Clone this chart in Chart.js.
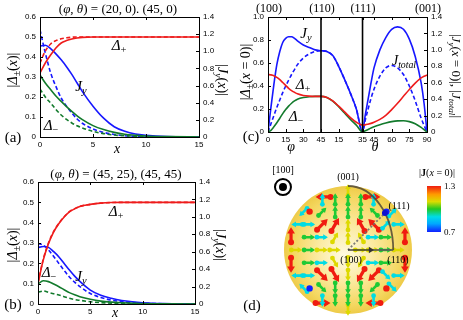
<!DOCTYPE html>
<html>
<head>
<meta charset="utf-8">
<script src="https://cdn.jsdelivr.net/npm/chart.js@4.4.0/dist/chart.umd.min.js"></script>
<style>
  body { margin: 0; background: #fff; }
  #fig { position: relative; width: 463px; height: 320px; overflow: hidden; font-family: 'Liberation Serif', 'DejaVu Serif', serif; }
  #fig canvas { position: absolute; }
  .t { position: absolute; white-space: nowrap; transform: translate(-50%, -50%); color: #000; line-height: 1; }
  .rl { transform: translate(-50%, -50%) rotate(-90deg); }
  .rr { transform: translate(-50%, -50%) rotate(90deg); }
  .t sub { font-size: 70%; vertical-align: -0.3em; }
  .l { transform: translate(0, -50%); }
</style>
</head>
<body>
<div id="fig">
  <canvas id="chartA" width="240" height="160" style="left:0;top:0"></canvas>
  <canvas id="chartB" width="240" height="160" style="left:0;top:160px"></canvas>
  <canvas id="chartC" width="223" height="160" style="left:240px;top:0"></canvas>
  <canvas id="chartD" width="223" height="170" style="left:240px;top:150px"></canvas>

  <!-- (a) -->
  <div class="t" style="left:118px;top:8px;font-size:13px">(<i>φ</i>, <i>θ</i>) = (20, 0). (45, 0)</div>
  <div class="t rl" style="left:14px;top:70px;font-size:14px">|<i>Δ</i><sub>±</sub>(<i>x</i>)|</div>
  <div class="t rr" style="left:221px;top:80px;font-size:14px">|<i>J<sub>y</sub></i>(<i>x</i>)|</div>
  <div class="t" style="left:119px;top:47px;font-size:15px"><i>Δ</i><sub>+</sub></div>
  <div class="t" style="left:81px;top:88px;font-size:15px"><i>J<sub>y</sub></i></div>
  <div class="t" style="left:51px;top:127px;font-size:15px"><i>Δ</i><sub>−</sub></div>
  <div class="t" style="left:13px;top:137px;font-size:15px">(a)</div>
  <div class="t" style="left:117px;top:149px;font-size:14px"><i>x</i></div>

  <!-- (b) -->
  <div class="t" style="left:116px;top:173px;font-size:13px">(<i>φ</i>, <i>θ</i>) = (45, 25), (45, 45)</div>
  <div class="t rl" style="left:14px;top:245px;font-size:14px">|<i>Δ</i><sub>±</sub>(<i>x</i>)|</div>
  <div class="t rr" style="left:219px;top:245px;font-size:14px">|<i>J<sub>y</sub></i>(<i>x</i>)|</div>
  <div class="t" style="left:116px;top:213px;font-size:15px"><i>Δ</i><sub>+</sub></div>
  <div class="t" style="left:49px;top:274px;font-size:15px"><i>Δ</i><sub>−</sub></div>
  <div class="t" style="left:81px;top:278px;font-size:15px"><i>J<sub>y</sub></i></div>
  <div class="t" style="left:13px;top:304px;font-size:15px">(b)</div>
  <div class="t" style="left:115px;top:313px;font-size:14px"><i>x</i></div>

  <!-- (c) -->
  <div class="t" style="left:269px;top:8px;font-size:12px">(100)</div>
  <div class="t" style="left:322px;top:8px;font-size:12px">(110)</div>
  <div class="t" style="left:363px;top:8px;font-size:12px">(111)</div>
  <div class="t" style="left:428px;top:8px;font-size:12px">(001)</div>
  <div class="t rl" style="left:247px;top:72px;font-size:14px">|<i>Δ</i><sub>±</sub>(<i>x</i> = 0)|</div>
  <div class="t rr" style="left:455px;top:76px;font-size:13px">|<i>J<sub>y</sub></i>(<i>x</i> = 0)|, |<i>J<sub>total</sub></i>|</div>
  <div class="t" style="left:306px;top:35px;font-size:15px"><i>J<sub>y</sub></i></div>
  <div class="t" style="left:303px;top:86px;font-size:15px"><i>Δ</i><sub>+</sub></div>
  <div class="t" style="left:296px;top:118px;font-size:15px"><i>Δ</i><sub>−</sub></div>
  <div class="t" style="left:404px;top:62px;font-size:14px"><i>J<sub>total</sub></i></div>
  <div class="t" style="left:251px;top:136px;font-size:15px">(c)</div>
  <div class="t" style="left:291px;top:147px;font-size:14px"><i>φ</i></div>
  <div class="t" style="left:375px;top:147px;font-size:14px"><i>θ</i></div>

  <!-- (d) -->
  <div class="t" style="left:283px;top:170px;font-size:10px">[100]</div>
  <div class="t" style="left:348px;top:177px;font-size:10px">(001)</div>
  <div class="t" style="left:399px;top:206px;font-size:10px">(111)</div>
  <div class="t" style="left:351px;top:260px;font-size:10px">(100)</div>
  <div class="t" style="left:398px;top:260px;font-size:10px">(110)</div>
  <div class="t" style="left:252px;top:305px;font-size:15px">(d)</div>
  <div class="t" style="left:437px;top:173px;font-size:10px">|<b>J</b>(<i>x</i> = 0)|</div>
  <div class="t l" style="left:444px;top:186px;font-size:9px">1.3</div>
  <div class="t l" style="left:444px;top:232px;font-size:9px">0.7</div>
</div>

<script>
// ---------- data: panels (a) and (b), profiles vs x ----------
const X_AB = [0, 0.5, 1, 1.5, 2, 2.5, 3, 3.5, 4, 5, 6, 7, 8, 9, 10, 12, 15];

// (a) solid = (20,0), dashed = (45,0)
const A_DPLUS_SOLID  = [0.32, 0.37, 0.41, 0.445, 0.47, 0.482, 0.49, 0.495, 0.498, 0.5, 0.5, 0.5, 0.5, 0.5, 0.5, 0.5, 0.5];
const A_DPLUS_DASH   = [0.37, 0.43, 0.465, 0.482, 0.491, 0.496, 0.499, 0.5, 0.5, 0.5, 0.5, 0.5, 0.5, 0.5, 0.5, 0.5, 0.5];
const A_DMINUS_SOLID = [0.31, 0.27, 0.237, 0.205, 0.178, 0.152, 0.128, 0.106, 0.087, 0.057, 0.037, 0.023, 0.014, 0.009, 0.005, 0.002, 0];
const A_DMINUS_DASH  = [0.24, 0.2, 0.17, 0.138, 0.11, 0.088, 0.07, 0.056, 0.045, 0.028, 0.017, 0.01, 0.006, 0.004, 0.002, 0.001, 0];
const A_JY_SOLID     = [1.06, 1.07, 1.03, 0.97, 0.9, 0.82, 0.73, 0.63, 0.53, 0.36, 0.22, 0.12, 0.066, 0.035, 0.02, 0.005, 0];
const A_JY_DASH      = [1.25, 0.98, 0.75, 0.59, 0.455, 0.36, 0.28, 0.21, 0.16, 0.093, 0.054, 0.03, 0.015, 0.008, 0.004, 0.001, 0];

// (b) solid = (45,25), dashed = (45,45)
const B_DPLUS_SOLID  = [0.1, 0.216, 0.297, 0.355, 0.396, 0.428, 0.453, 0.468, 0.48, 0.49, 0.496, 0.499, 0.5, 0.5, 0.5, 0.5, 0.5];
const B_DPLUS_DASH   = [0.105, 0.22, 0.3, 0.357, 0.397, 0.429, 0.454, 0.469, 0.48, 0.49, 0.496, 0.499, 0.5, 0.5, 0.5, 0.5, 0.5];
const B_DMINUS_SOLID = [0.098, 0.114, 0.11, 0.098, 0.085, 0.07, 0.056, 0.045, 0.036, 0.023, 0.014, 0.009, 0.006, 0.004, 0.002, 0.001, 0];
const B_DMINUS_DASH  = [0.057, 0.064, 0.057, 0.05, 0.044, 0.036, 0.028, 0.022, 0.018, 0.011, 0.007, 0.004, 0.003, 0.002, 0.001, 0, 0];
const B_JY_SOLID     = [0.648, 0.66, 0.65, 0.6, 0.54, 0.465, 0.39, 0.32, 0.26, 0.16, 0.1, 0.065, 0.04, 0.025, 0.015, 0.005, 0];
const B_JY_DASH      = [0.694, 0.675, 0.62, 0.545, 0.465, 0.385, 0.31, 0.25, 0.2, 0.12, 0.075, 0.045, 0.027, 0.016, 0.01, 0.003, 0];

// ---------- data: panel (c), path (100)->(110)->(111)->(001) ----------
// path coordinate in degrees: phi 0..45, then theta 90->54.7, then 54.7->0
const U_PATH = [0, 2.5, 5, 7.5, 10, 12.5, 15, 17.5, 20, 22.5, 25, 30, 35, 40, 45, 50, 55, 60, 65, 70, 75, 80.26,
                82.5, 85, 87.5, 90, 95, 100, 105, 110, 115, 120, 125, 130, 132.5, 135];
const C_JY     = [0, 0.3, 0.58, 0.82, 0.98, 1.09, 1.14, 1.16, 1.16, 1.14, 1.11, 1.06, 1.03, 1.0, 0.99, 0.98, 0.93, 0.8, 0.64, 0.47, 0.28, 0,
                  0.2, 0.4, 0.6, 0.78, 1.0, 1.15, 1.25, 1.28, 1.25, 1.13, 0.92, 0.6, 0.35, 0];
const C_JTOTAL = [0, 0.1, 0.2, 0.3, 0.39, 0.48, 0.56, 0.63, 0.7, 0.76, 0.82, 0.9, 0.95, 0.98, 0.99, 0.98, 0.93, 0.8, 0.64, 0.47, 0.28, 0,
                  0.14, 0.28, 0.41, 0.52, 0.68, 0.78, 0.81, 0.78, 0.7, 0.56, 0.38, 0.17, 0.08, 0];
const C_DPLUS  = [0.5, 0.497, 0.49, 0.475, 0.455, 0.43, 0.405, 0.38, 0.36, 0.345, 0.332, 0.318, 0.312, 0.31, 0.31, 0.3, 0.27, 0.225, 0.175, 0.125, 0.085, 0.06,
                  0.062, 0.068, 0.075, 0.085, 0.11, 0.145, 0.195, 0.25, 0.31, 0.37, 0.425, 0.47, 0.485, 0.495];
const C_DMINUS = [0, 0.015, 0.045, 0.08, 0.12, 0.16, 0.195, 0.225, 0.25, 0.27, 0.285, 0.3, 0.307, 0.31, 0.31, 0.3, 0.268, 0.22, 0.165, 0.11, 0.06, 0,
                  0.01, 0.022, 0.034, 0.045, 0.063, 0.078, 0.09, 0.097, 0.098, 0.09, 0.072, 0.04, 0.02, 0];
const C_TICK_POS = [0, 15, 30, 45, 60, 80.26, 90, 105, 120, 135];
const C_TICK_LAB = ['0', '15', '30', '45', '15', '35', '45', '60', '75', '90'];
const C_DIVIDERS = [45, 80.26];

// ---------- data: panel (d), current on the sphere seen from [100] ----------
// projected position (y, z) on the unit sphere, arrow direction (deg, 0 = +y, 90 = +z; null = dot), |J|
const ARROW_Y = [
  0.39, -0.39, 0.70, -0.70, 0.89, -0.89, 0.89, -0.89, 0.70, -0.70, 0.39, -0.39, 0, 0,
  -0.4, -0.2, 0, 0.2, 0.4,
  -0.6, -0.4, -0.2, 0, 0.2, 0.4, 0.6,
  -0.8, -0.6, -0.4, -0.2, 0, 0.2, 0.4, 0.6, 0.8,
  -0.6, -0.4, -0.2, 0, 0.2, 0.4, 0.6,
  -0.8, -0.6, -0.4, -0.2, 0.2, 0.4, 0.6, 0.8,
  -0.6, -0.4, -0.2, 0, 0.2, 0.4, 0.6,
  -0.8, -0.6, -0.4, -0.2, 0, 0.2, 0.4, 0.6, 0.8,
  -0.6, -0.4, -0.2, 0, 0.2, 0.4, 0.6,
  -0.4, -0.2, 0, 0.2, 0.4];
const ARROW_Z = [
  0.83, 0.83, 0.59, 0.59, 0.24, 0.24, -0.24, -0.24, -0.59, -0.59, -0.83, -0.83, 0.94, -0.94,
  0.8, 0.8, 0.8, 0.8, 0.8,
  0.6, 0.6, 0.6, 0.6, 0.6, 0.6, 0.6,
  0.4, 0.4, 0.4, 0.4, 0.4, 0.4, 0.4, 0.4, 0.4,
  0.2, 0.2, 0.2, 0.2, 0.2, 0.2, 0.2,
  0, 0, 0, 0, 0, 0, 0, 0,
  -0.2, -0.2, -0.2, -0.2, -0.2, -0.2, -0.2,
  -0.4, -0.4, -0.4, -0.4, -0.4, -0.4, -0.4, -0.4, -0.4,
  -0.6, -0.6, -0.6, -0.6, -0.6, -0.6, -0.6,
  -0.8, -0.8, -0.8, -0.8, -0.8];
const ARROW_DIR = [
  0, 180, 45, 225, 90, 90, 270, 270, 315, 135, 180, 0, 90, 270,
  90, 90, 90, 90, 90,
  null, 45, 90, 90, 90, 135, null,
  180, 0, 45, 60, 90, 120, 135, 45, 0,
  0, 0, 60, 90, 120, 0, 0,
  0, 0, 0, 0, 0, 0, 0, 0,
  0, 0, 300, 270, 240, 0, 0,
  180, 0, 315, 300, 270, 240, 225, 315, 0,
  null, 315, 270, 270, 270, 225, null,
  270, 270, 270, 270, 270];
const ARROW_MAG = [
  1.3, 1.3, 0.9, 0.9, 1.3, 1.3, 1.3, 1.3, 0.9, 0.9, 1.3, 1.3, 1.1, 1.1,
  0.9, 0.99, 0.99, 0.99, 0.9,
  1.3, 0.99, 0.99, 0.99, 0.99, 0.99, 0.7,
  0.9, 0.9, 1.3, 1.3, 1.1, 1.3, 1.3, 0.9, 0.9,
  0.99, 0.9, 1.1, 1.1, 1.1, 0.9, 0.99,
  1.1, 0.99, 1.1, 1.1, 1.1, 1.1, 0.99, 1.1,
  0.99, 0.9, 1.1, 1.1, 1.1, 0.9, 0.99,
  0.9, 0.9, 1.3, 1.3, 1.1, 1.3, 1.3, 0.9, 0.9,
  0.7, 0.99, 0.99, 0.99, 0.99, 0.99, 1.3,
  0.9, 0.99, 0.99, 0.99, 0.9];
const J_RANGE = [0.7, 1.3];
const JET_STOPS = [[0, '#1020ff'], [0.18, '#00a8ff'], [0.33, '#00dce8'], [0.5, '#22c822'], [0.66, '#dcdc00'], [0.82, '#ff9a00'], [1, '#f01c10']];
const VIEW_Y = [-1.6875, 1.797];
const VIEW_Z = [-1.094, 1.5625];
const POINT_111 = [0.577, 0.577];
const POINT_110 = [0.707, 0];
const VIEW_MARK = [-1.016, 0.984];

// ---------- styles ----------
const RED = '#ee1c1c', BLUE = '#1717ff', GREEN = '#127a2c';
const TICK_FONT = { family: "'Liberation Sans', Arial, sans-serif", size: 8 };

function series(xs, ys, color, dashed, axis) {
  return {
    data: xs.map((x, i) => ({ x, y: ys[i] })),
    borderColor: color, borderWidth: 1.6, borderDash: dashed ? [4, 2.5] : [],
    pointRadius: 0, cubicInterpolationMode: 'monotone', yAxisID: axis, fill: false,
  };
}

const frame = {
  id: 'frame',
  afterDraw(c) {
    const { ctx, chartArea: a, scales } = c;
    ctx.save();
    ctx.strokeStyle = '#000';
    ctx.lineWidth = 1;
    ctx.strokeRect(Math.round(a.left) + 0.5, Math.round(a.top) + 0.5, Math.round(a.right - a.left), Math.round(a.bottom - a.top));
    ctx.beginPath();
    scales.x.ticks.forEach(t => {
      const p = Math.round(scales.x.getPixelForValue(t.value)) + 0.5;
      ctx.moveTo(p, a.bottom); ctx.lineTo(p, a.bottom - 3);
      ctx.moveTo(p, a.top); ctx.lineTo(p, a.top + 3);
    });
    scales.yL.ticks.forEach(t => {
      const p = Math.round(scales.yL.getPixelForValue(t.value)) + 0.5;
      ctx.moveTo(a.left, p); ctx.lineTo(a.left + 3, p);
    });
    scales.yR.ticks.forEach(t => {
      const p = Math.round(scales.yR.getPixelForValue(t.value)) + 0.5;
      ctx.moveTo(a.right, p); ctx.lineTo(a.right - 3, p);
    });
    ctx.stroke();
    ctx.restore();
  }
};

function lineChart(id, o) {
  const axis = (extra) => Object.assign({
    grid: { display: false, drawTicks: false }, border: { display: false },
  }, extra);
  return new Chart(document.getElementById(id), {
    type: 'line',
    data: { datasets: o.datasets },
    options: {
      responsive: false, animation: false,
      layout: { padding: { top: o.top, left: 0, right: 0, bottom: 0 } },
      plugins: { legend: { display: false }, tooltip: { enabled: false } },
      scales: {
        x: axis(Object.assign({
          type: 'linear', min: o.xMin, max: o.xMax,
          ticks: { stepSize: o.xStep, font: TICK_FONT, color: '#000', padding: 3, maxRotation: 0 },
          afterFit(s) { s.height = o.hX; },
        }, o.xExtra || {})),
        yL: axis({
          position: 'left', min: 0, max: o.lMax,
          ticks: { stepSize: o.lStep, font: TICK_FONT, color: '#000', padding: 4 },
          afterFit(s) { s.width = o.wL; },
        }),
        yR: axis({
          position: 'right', min: 0, max: 1.4,
          ticks: { stepSize: 0.2, font: TICK_FONT, color: '#000', padding: 4 },
          afterFit(s) { s.width = o.wR; },
        }),
      },
    },
    plugins: [frame].concat(o.plugins || []),
  });
}

// (a)
lineChart('chartA', {
  top: 17, wL: 40, wR: 41, hX: 23, xMin: 0, xMax: 15, xStep: 5, lMax: 0.6, lStep: 0.1,
  datasets: [
    series(X_AB, A_DPLUS_DASH, RED, true, 'yL'),
    series(X_AB, A_DPLUS_SOLID, RED, false, 'yL'),
    series(X_AB, A_DMINUS_DASH, GREEN, true, 'yL'),
    series(X_AB, A_DMINUS_SOLID, GREEN, false, 'yL'),
    series(X_AB, A_JY_DASH, BLUE, true, 'yR'),
    series(X_AB, A_JY_SOLID, BLUE, false, 'yR'),
  ],
});

// (b)
lineChart('chartB', {
  top: 22, wL: 38, wR: 45, hX: 16, xMin: 0, xMax: 15, xStep: 5, lMax: 0.6, lStep: 0.1,
  datasets: [
    series(X_AB, B_DPLUS_DASH, RED, true, 'yL'),
    series(X_AB, B_DPLUS_SOLID, RED, false, 'yL'),
    series(X_AB, B_DMINUS_DASH, GREEN, true, 'yL'),
    series(X_AB, B_DMINUS_SOLID, GREEN, false, 'yL'),
    series(X_AB, B_JY_DASH, BLUE, true, 'yR'),
    series(X_AB, B_JY_SOLID, BLUE, false, 'yR'),
  ],
});

// (c)
const dividers = {
  id: 'dividers',
  afterDatasetsDraw(c) {
    const { ctx, chartArea: a } = c, x = c.scales.x;
    ctx.save();
    ctx.strokeStyle = '#000';
    ctx.lineWidth = 1.6;
    C_DIVIDERS.forEach(v => {
      const p = x.getPixelForValue(v);
      ctx.beginPath(); ctx.moveTo(p, a.top); ctx.lineTo(p, a.bottom); ctx.stroke();
    });
    ctx.restore();
  }
};
lineChart('chartC', {
  top: 17, wL: 28, wR: 36, hX: 28, xMin: 0, xMax: 135, xStep: 15, lMax: 1, lStep: 0.2,
  xExtra: {
    afterBuildTicks(s) { s.ticks = C_TICK_POS.map(v => ({ value: v })); },
    ticks: { font: TICK_FONT, color: '#000', padding: 3, maxRotation: 0, autoSkip: false,
             callback: (v, i) => C_TICK_LAB[i] },
  },
  datasets: [
    series(U_PATH, C_DPLUS, RED, false, 'yL'),
    series(U_PATH, C_DMINUS, GREEN, false, 'yL'),
    series(U_PATH, C_JTOTAL, BLUE, true, 'yR'),
    series(U_PATH, C_JY, BLUE, false, 'yR'),
  ],
  plugins: [dividers],
});

// (d)
function hexRgb(h) { return [1, 3, 5].map(k => parseInt(h.slice(k, k + 2), 16)); }
function jet(v) {
  const t = Math.max(0, Math.min(1, (v - J_RANGE[0]) / (J_RANGE[1] - J_RANGE[0])));
  for (let k = 1; k < JET_STOPS.length; k++) {
    if (t <= JET_STOPS[k][0]) {
      const [t0, c0] = JET_STOPS[k - 1], [t1, c1] = JET_STOPS[k];
      const f = (t - t0) / (t1 - t0), a = hexRgb(c0), b = hexRgb(c1);
      return `rgb(${a.map((q, i) => Math.round(q + (b[i] - q) * f)).join(',')})`;
    }
  }
  return JET_STOPS[JET_STOPS.length - 1][1];
}

function arrowHead(ctx, x0, y0, x1, y1, size) {
  const ang = Math.atan2(y1 - y0, x1 - x0);
  ctx.beginPath();
  ctx.moveTo(x1, y1);
  ctx.lineTo(x1 - size * Math.cos(ang - 0.55), y1 - size * Math.sin(ang - 0.55));
  ctx.lineTo(x1 - size * Math.cos(ang + 0.55), y1 - size * Math.sin(ang + 0.55));
  ctx.closePath();
  ctx.fill();
}

const sphere = {
  id: 'sphere',
  beforeDatasetsDraw(c) {
    const { ctx } = c, sx = c.scales.x, sy = c.scales.y;
    const cx = sx.getPixelForValue(0), cy = sy.getPixelForValue(0);
    const rx = sx.getPixelForValue(1) - cx, ry = cy - sy.getPixelForValue(1);
    ctx.save();
    const g = ctx.createRadialGradient(cx - 4, cy + 6, 0, cx, cy, rx);
    g.addColorStop(0, '#fffbe4');
    g.addColorStop(0.45, '#fbeaa0');
    g.addColorStop(0.85, '#f4d760');
    g.addColorStop(1, '#eecb48');
    ctx.fillStyle = g;
    ctx.beginPath(); ctx.ellipse(cx, cy, rx, ry, 0, 0, Math.PI * 2); ctx.fill();
    // view direction marker [100]
    const mx = sx.getPixelForValue(VIEW_MARK[0]), my = sy.getPixelForValue(VIEW_MARK[1]);
    ctx.strokeStyle = '#000'; ctx.lineWidth = 2;
    ctx.beginPath(); ctx.arc(mx, my, 8, 0, Math.PI * 2); ctx.stroke();
    ctx.fillStyle = '#000';
    ctx.beginPath(); ctx.arc(mx, my, 4, 0, Math.PI * 2); ctx.fill();
    // colour bar
    const cb = ctx.createLinearGradient(0, 36, 0, 82);
    JET_STOPS.forEach(([t, col]) => cb.addColorStop(1 - t, col));
    ctx.fillStyle = cb;
    ctx.fillRect(187, 36, 14, 46);
    ctx.restore();
  },
  afterDatasetsDraw(c) {
    const { ctx } = c, sx = c.scales.x, sy = c.scales.y;
    const meta = c.getDatasetMeta(0);
    ctx.save();
    ctx.lineCap = 'round';
    meta.data.forEach((pt, i) => {
      const col = jet(ARROW_MAG[i]);
      ctx.fillStyle = col; ctx.strokeStyle = col;
      if (ARROW_DIR[i] === null) {
        ctx.beginPath(); ctx.arc(pt.x, pt.y, 3.2, 0, Math.PI * 2); ctx.fill();
        return;
      }
      const big = ARROW_MAG[i] > 1.2;
      const len = big ? 15 : 11;
      const a = ARROW_DIR[i] * Math.PI / 180;
      const dx = Math.cos(a) * len / 2, dy = -Math.sin(a) * len / 2;
      ctx.lineWidth = big ? 3.2 : 2.6;
      ctx.beginPath(); ctx.arc(pt.x - dx, pt.y - dy, big ? 3 : 2.4, 0, Math.PI * 2); ctx.fill();
      ctx.beginPath(); ctx.moveTo(pt.x - dx, pt.y - dy); ctx.lineTo(pt.x + dx * 0.5, pt.y + dy * 0.5); ctx.stroke();
      arrowHead(ctx, pt.x - dx, pt.y - dy, pt.x + dx, pt.y + dy, big ? 7.5 : 5.5);
    });
    // guides: great circle (001)-(111)-(110), path to (111) and (110)
    const cx = sx.getPixelForValue(0), cy = sy.getPixelForValue(0);
    const rx = sx.getPixelForValue(1) - cx, ry = cy - sy.getPixelForValue(1);
    ctx.strokeStyle = 'rgba(80,70,50,0.85)'; ctx.lineWidth = 1.8; ctx.lineCap = 'butt';
    ctx.beginPath(); ctx.ellipse(cx, cy, rx * POINT_110[0], ry, 0, -Math.PI / 2, 0); ctx.stroke();
    const p111 = [sx.getPixelForValue(POINT_111[0]), sy.getPixelForValue(POINT_111[1])];
    const p110 = [sx.getPixelForValue(POINT_110[0]), cy];
    ctx.strokeStyle = 'rgba(110,110,110,0.9)'; ctx.lineWidth = 1.8; ctx.setLineDash([2, 2]);
    ctx.beginPath(); ctx.moveTo(cx, cy); ctx.lineTo(p111[0], p111[1]); ctx.stroke();
    ctx.setLineDash([]);
    ctx.strokeStyle = 'rgba(90,90,90,0.9)';
    ctx.beginPath(); ctx.moveTo(cx + 22, cy); ctx.lineTo(p110[0], cy); ctx.stroke();
    ctx.strokeStyle = '#333'; ctx.fillStyle = '#333'; ctx.lineWidth = 1.4;
    ctx.beginPath(); ctx.moveTo(cx, cy); ctx.lineTo(cx + 22, cy); ctx.stroke();
    arrowHead(ctx, cx, cy, cx + 26, cy, 6);
    ctx.fillStyle = '#1010d0';
    ctx.beginPath(); ctx.arc(p111[0], p111[1], 3, 0, Math.PI * 2); ctx.fill();
    ctx.restore();
  }
};

new Chart(document.getElementById('chartD'), {
  type: 'scatter',
  data: { datasets: [{ data: ARROW_Y.map((y, i) => ({ x: y, y: ARROW_Z[i] })), pointRadius: 0 }] },
  options: {
    responsive: false, animation: false,
    layout: { padding: 0 },
    plugins: { legend: { display: false }, tooltip: { enabled: false } },
    scales: {
      x: { display: false, min: VIEW_Y[0], max: VIEW_Y[1] },
      y: { display: false, min: VIEW_Z[0], max: VIEW_Z[1] },
    },
  },
  plugins: [sphere],
});
</script>
</body>
</html>
